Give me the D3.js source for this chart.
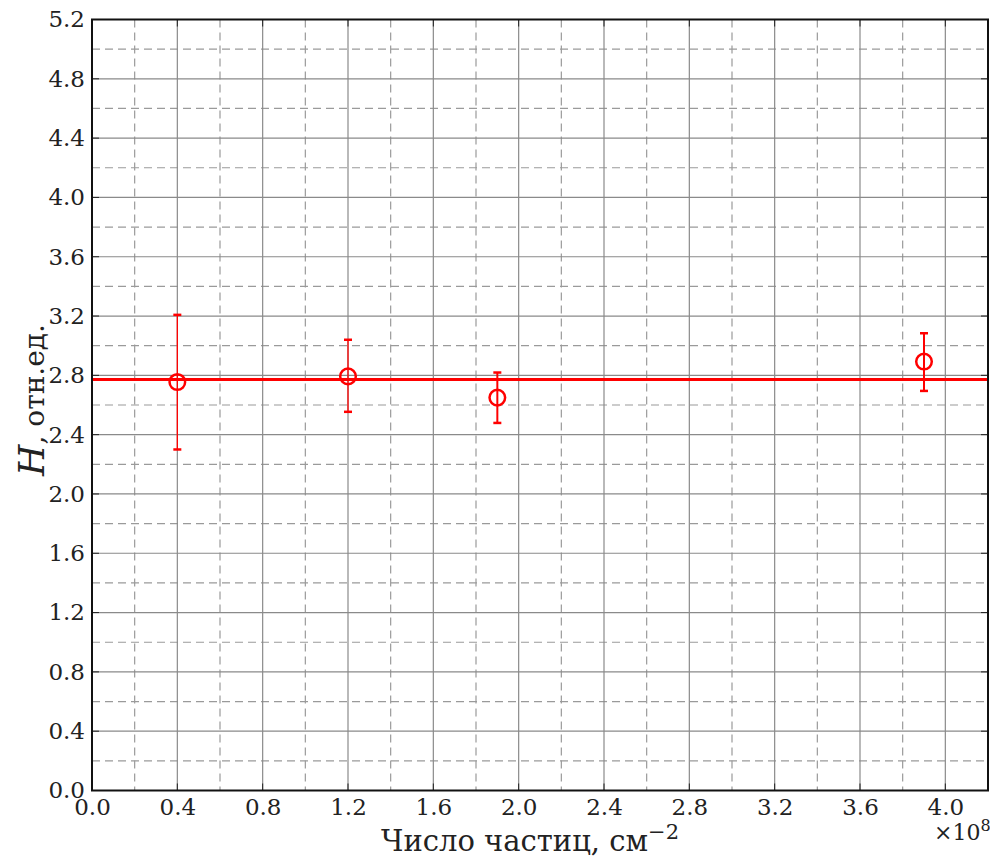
<!DOCTYPE html>
<html><head><meta charset="utf-8">
<script src="https://cdn.jsdelivr.net/npm/d3@7"></script>
<style>body{margin:0;background:#fff}</style>
</head><body>
<svg id="c" width="990" height="859"></svg>
<script>
const xVals=[0.4,1.2,1.9,3.9];
const yVals=[2.755,2.793,2.650,2.893];
const yLow=[2.300,2.554,2.479,2.695];
const yHigh=[3.208,3.040,2.819,3.084];
const meanLevel=2.772;
const xTicks=[0.0,0.4,0.8,1.2,1.6,2.0,2.4,2.8,3.2,3.6,4.0];
const yTicks=[0.0,0.4,0.8,1.2,1.6,2.0,2.4,2.8,3.2,3.6,4.0,4.4,4.8,5.2];
const xMinor=d3.range(0.2,4.2,0.4);
const yMinor=d3.range(0.2,5.2,0.4);

const FONT="'DejaVu Serif', serif";
const svg=d3.select("#c");
const L=92,R=988,T=19.5,B=790.5;
const x=d3.scaleLinear().domain([0,4.2]).range([L,R]);
const y=d3.scaleLinear().domain([0,5.2]).range([B,T]);
const g=svg.append("g");
g.selectAll(".vx").data(xMinor).join("line").attr("x1",d=>x(d)).attr("x2",d=>x(d)).attr("y1",T).attr("y2",B)
 .attr("stroke","#9a9a9a").attr("stroke-width",1.2).attr("stroke-dasharray","8,5");
g.selectAll(".hy").data(yMinor).join("line").attr("y1",d=>y(d)).attr("y2",d=>y(d)).attr("x1",L).attr("x2",R)
 .attr("stroke","#9a9a9a").attr("stroke-width",1.2).attr("stroke-dasharray","8,5");
g.selectAll(".mx").data(xTicks).join("line").attr("x1",d=>x(d)).attr("x2",d=>x(d)).attr("y1",T).attr("y2",B)
 .attr("stroke","#8a8a8a").attr("stroke-width",1.2);
g.selectAll(".my").data(yTicks).join("line").attr("y1",d=>y(d)).attr("y2",d=>y(d)).attr("x1",L).attr("x2",R)
 .attr("stroke","#8a8a8a").attr("stroke-width",1.2);

const xa=d3.axisBottom(x).tickValues(xTicks).tickFormat(d3.format(".1f")).tickSize(0).tickPadding(8);
const ya=d3.axisLeft(y).tickValues(yTicks).tickFormat(d3.format(".1f")).tickSize(0).tickPadding(7);
const gx=svg.append("g").attr("transform",`translate(0,${B})`).call(xa);
const gy=svg.append("g").attr("transform",`translate(${L},0)`).call(ya);
[gx,gy].forEach(a=>{a.select(".domain").remove();a.attr("font-family",null).attr("font-size",null);
  a.selectAll("text").style("font-family",FONT).style("font-size","23px").style("fill","#222");});
g.selectAll(".tb").data(xTicks).join("line").attr("x1",d=>x(d)).attr("x2",d=>x(d)).attr("y1",B).attr("y2",B-7).attr("stroke","#222");
g.selectAll(".tt").data(xTicks).join("line").attr("x1",d=>x(d)).attr("x2",d=>x(d)).attr("y1",T).attr("y2",T+7).attr("stroke","#222");
g.selectAll(".tl").data(yTicks).join("line").attr("y1",d=>y(d)).attr("y2",d=>y(d)).attr("x1",L).attr("x2",L+7).attr("stroke","#222");
g.selectAll(".tr").data(yTicks).join("line").attr("y1",d=>y(d)).attr("y2",d=>y(d)).attr("x1",R).attr("x2",R-7).attr("stroke","#222");

svg.append("line").attr("x1",L).attr("x2",R).attr("y1",y(meanLevel)).attr("y2",y(meanLevel)).attr("stroke","#ff0000").attr("stroke-width",3);

const pts=xVals.map((v,i)=>({x:v,y:yVals[i],lo:yLow[i],hi:yHigh[i]}));
const eb=svg.append("g");
eb.selectAll(".ev").data(pts).join("line").attr("x1",d=>x(d.x)).attr("x2",d=>x(d.x)).attr("y1",d=>y(d.lo)).attr("y2",d=>y(d.hi))
 .attr("stroke","#ff0000").attr("stroke-width",(d,i)=>i<2?1.3:2);
eb.selectAll(".cu").data(pts).join("line").attr("x1",d=>x(d.x)-4).attr("x2",d=>x(d.x)+4).attr("y1",d=>y(d.hi)).attr("y2",d=>y(d.hi)).attr("stroke","#ff0000").attr("stroke-width",2.5);
eb.selectAll(".cl").data(pts).join("line").attr("x1",d=>x(d.x)-4).attr("x2",d=>x(d.x)+4).attr("y1",d=>y(d.lo)).attr("y2",d=>y(d.lo)).attr("stroke","#ff0000").attr("stroke-width",2.5);
eb.selectAll("circle").data(pts).join("circle").attr("cx",d=>x(d.x)).attr("cy",d=>y(d.y)).attr("r",7.8)
 .attr("fill","none").attr("stroke","#ff0000").attr("stroke-width",2.5);

svg.append("rect").attr("x",L).attr("y",T).attr("width",R-L).attr("height",B-T).attr("fill","none").attr("stroke","#111").attr("stroke-width",2);

const lab=(s)=>s.style("font-family",FONT).style("fill","#222");
svg.append("text").attr("x",530).attr("y",851).attr("text-anchor","middle").style("font-size","29px").call(lab)
 .html('Число частиц, см<tspan dy="-12" style="font-size:21px">−2</tspan>');
svg.append("text").attr("transform","translate(44,400) rotate(-90)").attr("text-anchor","middle").style("font-size","28px").call(lab)
 .html('<tspan style="font-style:italic;font-size:36px">H</tspan>, отн.ед.');
svg.append("text").attr("x",934).attr("y",840).style("font-size","22px").call(lab).html('×10<tspan dy="-9" style="font-size:16px">8</tspan>');
</script>
</body></html>
